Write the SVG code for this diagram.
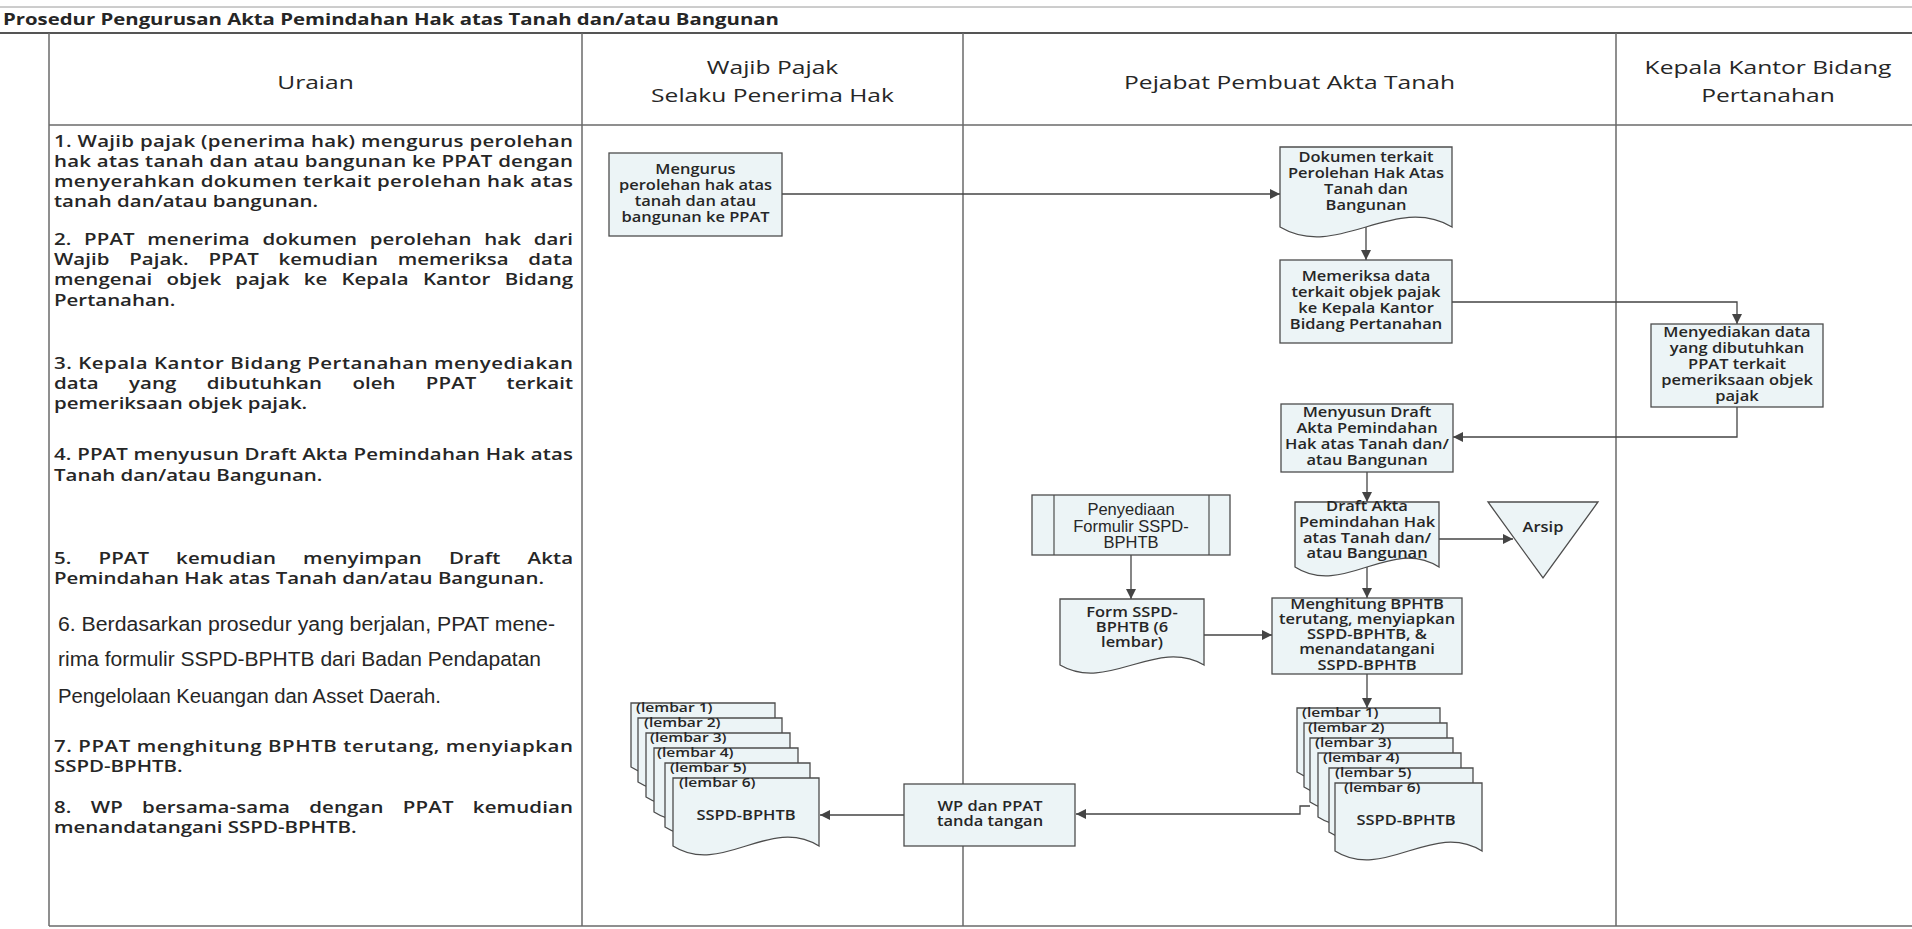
<svg xmlns="http://www.w3.org/2000/svg" width="1912" height="929" viewBox="0 0 1912 929">
<defs>
<style>
.tl{stroke:#6a6a6a;stroke-width:1.5;fill:none}
.box{fill:#ecf4f6;stroke:#4d4d4d;stroke-width:1.3}
.cn{stroke:#444;stroke-width:1.3;fill:none;marker-end:url(#ah)}
.t{font-family:"Open Sans","Liberation Sans",sans-serif;fill:#262626}
.bt{font-size:13.5px;text-anchor:middle;font-weight:600}
.lt{font-size:15.5px;font-weight:600}
.hd{font-size:18.5px;text-anchor:middle}
.lb{font-size:12px;font-weight:600}
.ar{font-family:"Liberation Sans",Arial,sans-serif;fill:#262626}
</style>
<marker id="ah" viewBox="0 0 10 10" refX="10" refY="5" markerWidth="11" markerHeight="10" markerUnits="userSpaceOnUse" orient="auto">
<path d="M0,0 L10,5 L0,10 z" fill="#444"/>
</marker>
</defs>
<rect width="1912" height="929" fill="#ffffff"/>

<g id="frame">
<line x1="0" y1="7" x2="1912" y2="7" stroke="#9a9a9a" stroke-width="1"/>
<line x1="0" y1="33" x2="1912" y2="33" stroke="#555" stroke-width="2"/>
<line class="tl" x1="49" y1="33" x2="49" y2="926"/>
<line class="tl" x1="582" y1="33" x2="582" y2="926"/>
<line class="tl" x1="963" y1="33" x2="963" y2="926"/>
<line class="tl" x1="1616" y1="33" x2="1616" y2="926"/>
<line class="tl" x1="49" y1="125" x2="1912" y2="125"/>
<line class="tl" x1="49" y1="926" x2="1912" y2="926"/>
<text class="t" x="3" y="25" font-size="16.5" font-weight="bold" textLength="776" lengthAdjust="spacingAndGlyphs">Prosedur Pengurusan Akta Pemindahan Hak atas Tanah dan/atau Bangunan</text>
</g>

<g id="headers">
<g transform="translate(315.5 0) scale(1.33 1)"><text class="t hd" x="0" y="89.5">Uraian</text></g>
<g transform="translate(772.5 0) scale(1.33 1)"><text class="t hd"><tspan x="0" y="74.5">Wajib Pajak</tspan><tspan x="0" y="102.5">Selaku Penerima Hak</tspan></text></g>
<g transform="translate(1289.5 0) scale(1.33 1)"><text class="t hd" x="0" y="89.5">Pejabat Pembuat Akta Tanah</text></g>
<g transform="translate(1768 0) scale(1.33 1)"><text class="t hd"><tspan x="0" y="74.5">Kepala Kantor Bidang</tspan><tspan x="0" y="102.5">Pertanahan</tspan></text></g>
</g>

<g id="uraian">
<g transform="translate(54 0) scale(1.32 1)" class="t lt">
<text x="0" y="147" textLength="393.2" lengthAdjust="spacing">1. Wajib pajak (penerima hak) mengurus perolehan</text>
<text x="0" y="167" textLength="393.2" lengthAdjust="spacing">hak atas tanah dan atau bangunan ke PPAT dengan</text>
<text x="0" y="187" textLength="393.2" lengthAdjust="spacing">menyerahkan dokumen terkait perolehan hak atas</text>
<text x="0" y="207">tanah dan/atau bangunan.</text>
<text x="0" y="245" word-spacing="5.5" textLength="393.2" lengthAdjust="spacing">2. PPAT menerima dokumen perolehan hak dari</text>
<text x="0" y="265" word-spacing="10.8" textLength="393.2" lengthAdjust="spacing">Wajib Pajak. PPAT kemudian memeriksa data</text>
<text x="0" y="285" word-spacing="6.7" textLength="393.2" lengthAdjust="spacing">mengenai objek pajak ke Kepala Kantor Bidang</text>
<text x="0" y="306">Pertanahan.</text>
<text x="0" y="369" textLength="393.2" lengthAdjust="spacing">3. Kepala Kantor Bidang Pertanahan menyediakan</text>
<text x="0" y="389" word-spacing="18.9" textLength="393.2" lengthAdjust="spacing">data yang dibutuhkan oleh PPAT terkait</text>
<text x="0" y="409">pemeriksaan objek pajak.</text>
<text x="0" y="460" textLength="393.2" lengthAdjust="spacing">4. PPAT menyusun Draft Akta Pemindahan Hak atas</text>
<text x="0" y="481">Tanah dan/atau Bangunan.</text>
<text x="0" y="564" word-spacing="16.4" textLength="393.2" lengthAdjust="spacing">5. PPAT kemudian menyimpan Draft Akta</text>
<text x="0" y="584">Pemindahan Hak atas Tanah dan/atau Bangunan.</text>
<text x="0" y="752" textLength="393.2" lengthAdjust="spacing">7. PPAT menghitung BPHTB terutang, menyiapkan</text>
<text x="0" y="772">SSPD-BPHTB.</text>
<text x="0" y="813" word-spacing="10.4" textLength="393.2" lengthAdjust="spacing">8. WP bersama-sama dengan PPAT kemudian</text>
<text x="0" y="833">menandatangani SSPD-BPHTB.</text>
</g>
<g class="ar" font-size="19.5">
<text x="58" y="631" textLength="497" lengthAdjust="spacingAndGlyphs">6. Berdasarkan prosedur yang berjalan, PPAT mene-</text>
<text x="58" y="666" textLength="483" lengthAdjust="spacingAndGlyphs">rima formulir SSPD-BPHTB dari Badan Pendapatan</text>
<text x="58" y="703" textLength="383" lengthAdjust="spacingAndGlyphs">Pengelolaan Keuangan dan Asset Daerah.</text>
</g>
</g>

<g id="connectors">
<path id="c1" class="cn" d="M782,194 H1280"/>
<path id="c2" class="cn" d="M1366,227 V260"/>
<path id="c3" class="cn" d="M1452,302 H1737 V324"/>
<path id="c4" class="cn" d="M1737,407 V437 H1453"/>
<path id="c5" class="cn" d="M1367,472 V502"/>
<path id="c6" class="cn" d="M1439,539 H1513"/>
<path id="c7" class="cn" d="M1367,567 V598"/>
<path id="c8" class="cn" d="M1131,555 V599"/>
<path id="c9" class="cn" d="M1204,635 H1272"/>
<path id="c10" class="cn" d="M1367,674 V708"/>
<path id="c11" class="cn" d="M1310,806 H1300 V814 H1076"/>
<path id="c12" class="cn" d="M904,815 H820"/>
</g>

<g id="n-mengurus">
<rect class="box" x="609" y="153" width="173" height="83"/>
<g transform="translate(695.5 0) scale(1.22 1)"><text class="t bt"><tspan x="0" y="174.5">Mengurus</tspan><tspan x="0" y="190.5">perolehan hak atas</tspan><tspan x="0" y="206.5">tanah dan atau</tspan><tspan x="0" y="222.5">bangunan ke PPAT</tspan></text></g>
</g>

<g id="n-dokumen">
<path class="box" d="M1280,147 H1452 V227 C1394.7,193 1337.3,261 1280,227 Z"/>
<g transform="translate(1366 0) scale(1.22 1)"><text class="t bt"><tspan x="0" y="162">Dokumen terkait</tspan><tspan x="0" y="178">Perolehan Hak Atas</tspan><tspan x="0" y="194">Tanah dan</tspan><tspan x="0" y="210">Bangunan</tspan></text></g>
</g>

<g id="n-memeriksa">
<rect class="box" x="1280" y="260" width="172" height="83"/>
<g transform="translate(1366 0) scale(1.22 1)"><text class="t bt"><tspan x="0" y="281.5">Memeriksa data</tspan><tspan x="0" y="297.5">terkait objek pajak</tspan><tspan x="0" y="313.5">ke Kepala Kantor</tspan><tspan x="0" y="329.5">Bidang Pertanahan</tspan></text></g>
</g>

<g id="n-menyediakan">
<rect class="box" x="1651" y="324" width="172" height="83"/>
<g transform="translate(1737 0) scale(1.22 1)"><text class="t bt"><tspan x="0" y="337.5">Menyediakan data</tspan><tspan x="0" y="353.5">yang dibutuhkan</tspan><tspan x="0" y="369.5">PPAT terkait</tspan><tspan x="0" y="385.5">pemeriksaan objek</tspan><tspan x="0" y="401.5">pajak</tspan></text></g>
</g>

<g id="n-menyusun">
<rect class="box" x="1281" y="404" width="172" height="68"/>
<g transform="translate(1367 0) scale(1.22 1)"><text class="t bt"><tspan x="0" y="417.5">Menyusun Draft</tspan><tspan x="0" y="433.5">Akta Pemindahan</tspan><tspan x="0" y="449.5">Hak atas Tanah dan/</tspan><tspan x="0" y="465.5">atau Bangunan</tspan></text></g>
</g>

<g id="n-draft">
<path class="box" d="M1295,502 H1439 V567 C1391,536 1343,598 1295,567 Z"/>
<g transform="translate(1367 0) scale(1.22 1)"><text class="t bt"><tspan x="0" y="511.5">Draft Akta</tspan><tspan x="0" y="527.5">Pemindahan Hak</tspan><tspan x="0" y="543">atas Tanah dan/</tspan><tspan x="0" y="558.5">atau Bangunan</tspan></text></g>
</g>

<g id="n-arsip">
<path class="box" d="M1488,502 H1598 L1543,578 Z"/>
<g transform="translate(1543 0) scale(1.22 1)"><text class="t bt" x="0" y="532">Arsip</text></g>
</g>

<g id="n-penyediaan">
<rect class="box" x="1032" y="495" width="198" height="60"/>
<line x1="1054" y1="495" x2="1054" y2="555" stroke="#4d4d4d" stroke-width="1.2"/>
<line x1="1209" y1="495" x2="1209" y2="555" stroke="#4d4d4d" stroke-width="1.2"/>
<text class="ar" font-size="16.5" text-anchor="middle"><tspan x="1131" y="515">Penyediaan</tspan><tspan x="1131" y="531.5">Formulir SSPD-</tspan><tspan x="1131" y="548">BPHTB</tspan></text>
</g>

<g id="n-form">
<path class="box" d="M1060,599 H1204 V665 C1156,637 1108,693 1060,665 Z"/>
<g transform="translate(1132 0) scale(1.22 1)"><text class="t bt"><tspan x="0" y="617.5">Form SSPD-</tspan><tspan x="0" y="632.5">BPHTB (6</tspan><tspan x="0" y="647.5">lembar)</tspan></text></g>
</g>

<g id="n-menghitung">
<rect class="box" x="1272" y="598" width="190" height="76"/>
<g transform="translate(1367 0) scale(1.22 1)"><text class="t bt"><tspan x="0" y="609.5">Menghitung BPHTB</tspan><tspan x="0" y="624.5">terutang, menyiapkan</tspan><tspan x="0" y="639.5">SSPD-BPHTB, &amp;</tspan><tspan x="0" y="654.5">menandatangani</tspan><tspan x="0" y="670.5">SSPD-BPHTB</tspan></text></g>
</g>

<g id="n-sspd-ppat">
<path class="box" d="M1297,708 H1440 V772 C1392.3,741 1344.7,803 1297,772 Z"/>
<path class="box" d="M1304,723 H1447 V787 C1399.3,756 1351.7,818 1304,787 Z"/>
<path class="box" d="M1310,738 H1453 V802 C1405.3,771 1357.7,833 1310,802 Z"/>
<path class="box" d="M1318,753 H1461 V817 C1413.3,786 1365.7,848 1318,817 Z"/>
<path class="box" d="M1329,768 H1473 V832 C1425,801 1377,863 1329,832 Z"/>
<path class="box" d="M1335,783 H1482 V851 C1433,820 1384,882 1335,851 Z"/>
<g class="t lb">
<text transform="translate(1302 717) scale(1.3 1)">(lembar 1)</text>
<text transform="translate(1308 732) scale(1.3 1)">(lembar 2)</text>
<text transform="translate(1315 747) scale(1.3 1)">(lembar 3)</text>
<text transform="translate(1323 762) scale(1.3 1)">(lembar 4)</text>
<text transform="translate(1335 777) scale(1.3 1)">(lembar 5)</text>
<text transform="translate(1344 792) scale(1.3 1)">(lembar 6)</text>
</g>
<g transform="translate(1406 0) scale(1.22 1)"><text class="t bt" x="0" y="825">SSPD-BPHTB</text></g>
</g>

<g id="n-wp-ttd">
<rect class="box" x="904" y="784" width="171" height="62"/>
<g transform="translate(990 0) scale(1.22 1)"><text class="t bt"><tspan x="0" y="811.5">WP dan PPAT</tspan><tspan x="0" y="826.5">tanda tangan</tspan></text></g>
</g>

<g id="n-sspd-wp">
<path class="box" d="M631,703 H775 V767 C727,736 679,798 631,767 Z"/>
<path class="box" d="M638,718 H782 V782 C734,751 686,813 638,782 Z"/>
<path class="box" d="M646,733 H790 V797 C742,766 694,828 646,797 Z"/>
<path class="box" d="M654,748 H798 V812 C750,781 702,843 654,812 Z"/>
<path class="box" d="M665,763 H810 V827 C761.7,796 713.3,858 665,827 Z"/>
<path class="box" d="M673,778 H819 V846 C770.3,815 721.7,877 673,846 Z"/>
<g class="t lb">
<text transform="translate(636 712) scale(1.3 1)">(lembar 1)</text>
<text transform="translate(644 727) scale(1.3 1)">(lembar 2)</text>
<text transform="translate(650 742) scale(1.3 1)">(lembar 3)</text>
<text transform="translate(657 757) scale(1.3 1)">(lembar 4)</text>
<text transform="translate(670 772) scale(1.3 1)">(lembar 5)</text>
<text transform="translate(679 787) scale(1.3 1)">(lembar 6)</text>
</g>
<g transform="translate(746 0) scale(1.22 1)"><text class="t bt" x="0" y="820">SSPD-BPHTB</text></g>
</g>
</svg>
